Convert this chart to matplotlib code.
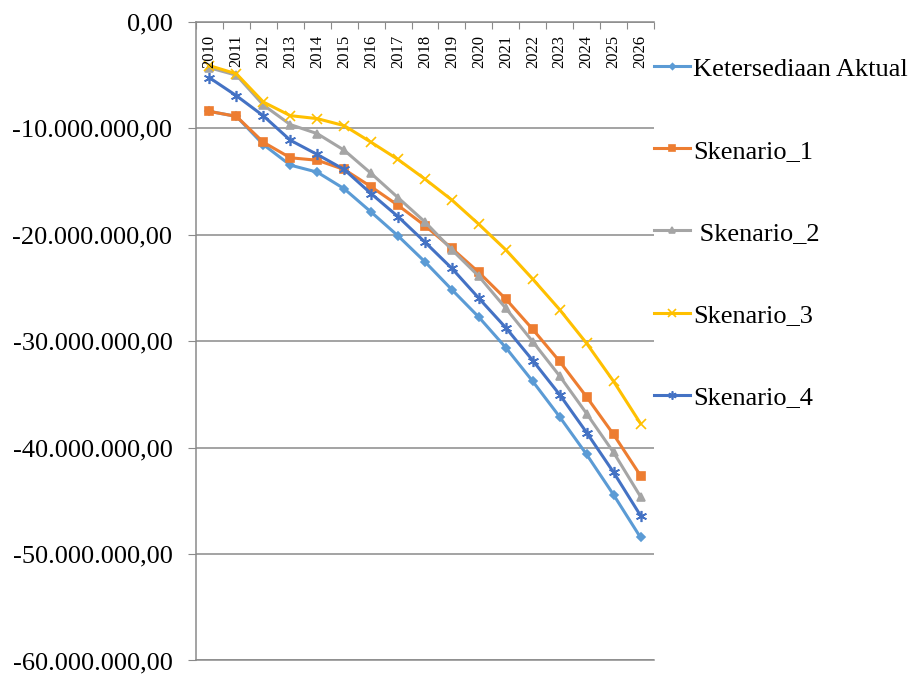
import matplotlib.pyplot as plt
from matplotlib.ticker import FuncFormatter

# Data (million units)
tahun = [str(t) for t in range(2010, 2027)]
aktual = [-8.40, -8.87, -11.52, -13.45, -14.11, -15.67, -17.86, -20.10, -22.54,
          -25.16, -27.74, -30.60, -33.77, -37.11, -40.64, -44.43, -48.44]
skenario_1 = [-8.40, -8.87, -11.30, -12.76, -12.99, -13.86, -15.48, -17.23, -19.14,
              -21.28, -23.53, -26.03, -28.88, -31.90, -35.23, -38.76, -42.63]
skenario_2 = [-4.30, -5.00, -7.80, -9.64, -10.49, -12.05, -14.23, -16.51, -18.79,
              -21.41, -23.90, -26.90, -30.04, -33.27, -36.80, -40.45, -44.60]
skenario_3 = [-4.10, -4.87, -7.52, -8.80, -9.08, -9.74, -11.30, -12.92, -14.76,
              -16.73, -19.01, -21.41, -24.16, -27.03, -30.20, -33.77, -37.73]
skenario_4 = [-5.24, -6.93, -8.82, -11.11, -12.45, -13.86, -16.13, -18.29, -20.69,
              -23.16, -25.96, -28.73, -31.81, -35.02, -38.58, -42.32, -46.38]

plt.rcParams['font.family'] = ['Liberation Serif', 'DejaVu Serif']

fig = plt.figure(figsize=(9.13, 6.75), dpi=100)
ax = fig.add_axes([0.2147, 0.0215, 0.5016, 0.9459])

x = list(range(len(tahun)))
M = 1e6
series = [
    (aktual, 'Ketersediaan Aktual', '#5B9BD5', 'D', 4),
    (skenario_1, 'Skenario_1', '#ED7D31', 's', 6),
    (skenario_2, ' Skenario_2', '#A5A5A5', '^', 6),
    (skenario_3, 'Skenario_3', '#FFC000', 'x', 7),
    (skenario_4, 'Skenario_4', '#4472C4', (6, 2, 0), 8),
]
for vals, lab, col, mk, ms in series:
    ax.plot(x, [v * M for v in vals], '-', color=col, lw=2.2, marker=mk, ms=ms,
            mew=1.2, label=lab)

ax.set_xlim(-0.5, len(tahun) - 0.5)
ax.set_ylim(-60 * M, 0)
ax.set_yticks([-i * 10 * M for i in range(7)])


def fmt_id(v, pos):
    s = '{:,.2f}'.format(v)
    return s.replace(',', '#').replace('.', ',').replace('#', '.')


ax.yaxis.set_major_formatter(FuncFormatter(fmt_id))
ax.tick_params(axis='y', direction='out', length=6, color='#8a8a8a', labelsize=19, pad=11)
ax.grid(axis='y', color='#8a8a8a', lw=1.1)
ax.set_axisbelow(True)

# category axis on top, labels inside the plot
ax.xaxis.tick_top()
ax.set_xticks([i - 0.5 for i in range(len(tahun) + 1)])
ax.set_xticklabels([])
ax.tick_params(axis='x', direction='in', length=5, color='#8a8a8a')
for i, t in enumerate(tahun):
    ax.annotate(t, xy=(i, 1), xycoords=('data', 'axes fraction'), xytext=(0, -9),
                textcoords='offset points', rotation=90, ha='center', va='top', fontsize=12)

ax.spines['right'].set_visible(False)
for s in ['left', 'top', 'bottom']:
    ax.spines[s].set_color('#8a8a8a')
    ax.spines[s].set_linewidth(1.1)

ax.legend(loc='upper left', bbox_to_anchor=(1.0, 0.945), frameon=False, fontsize=19,
          handlelength=1.35, handletextpad=0.12, labelspacing=2.22, borderpad=0,
          borderaxespad=0, markerscale=0.75)

fig.savefig('out.png', dpi=100)
